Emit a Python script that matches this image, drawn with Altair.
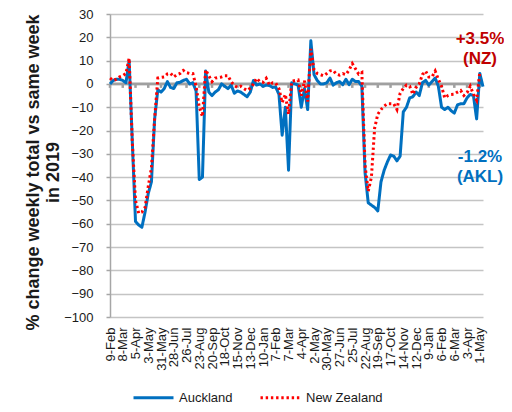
import altair as alt
import pandas as pd

# Weekly % change vs same week in 2019, weeks ending 9-Feb-2020 onwards
akl = [0, 1.5, 2, 2, 1.5, 0.5, 10, -25, -59, -60.5,
       -61.5, -55, -47, -42, -15, -2.5, -3.5, -2, 1, -1.5,
       -2, 0.5, 0.7, 1.5, 2, 0, 0.5, -3, -41, -40,
       5.5, -3.5, -5, -3.5, -2.5, 0, -1, -2, -0.5, -4,
       -3, -3.5, -4.5, -5.5, -3.5, 1.5, -0.5, 0, -1, -0.5,
       -0.7, -1.5, -1.4, -4.5, -22, -10, -37, 0.5, 0, -0.5,
       -10, -2, -11, 18.5, 4, 1.5, 0, 0, 0.5, 2.5,
       -0.5, 0.5, 1, -0.3, 2, -0.3, 2, 1, 1, -1,
       -38, -51, -52, -53, -54.5, -42, -37, -33.5, -30.5, -31,
       -33, -31, -12, -10, -6, -5.5, -3.5, -5, 0.5, 1.5,
       -0.5, 1, 2.5, -1, -10, -11, -10, -11.5, -12.5, -9,
       -8.5, -8.5, -6, -4.5, -5, -15, 4.5, -1.2]

nz = [2.5, 1.5, 2, 3, 3.5, 4.5, 11, -25, -50, -55.5,
      -55, -53, -44, -36, -15, 2.5, 2.8, 3, 4.3, 4.6,
      3, 4, 4.5, 5.8, 4.8, 4.5, 4.4, -1, -10, -14,
      6, 3.5, 1, 2.5, 2.8, 3, 3.5, 3.5, 1, -0.7,
      -1.5, -1, -2, -2.8, -1.8, 0, 2.4, 1, 0.7, 2.4,
      -0.5, 0.5, 0.3, -2, -8, -4.5, -13, 1, 1.5, 1.7,
      -5, 1.4, -7.6, 15, 6, 4.5, 4, 3.5, 4.5, 5.6,
      5.8, 4.2, 3.8, 4.4, 4, 6, 8.7, 6.5, 4.2, 4.9,
      -35, -46, -40, -19, -13, -11, -9.5, -8.5, -8.5, -8.5,
      -11, -4, -2, -0.5, -1, -4.5, -1.5, 0, 4, 5.5,
      3, 3, 5.5, 2, -1, -6, -5, -4.5, -4.4, -3.5,
      -2.8, -5, -3.8, -1, -4.4, -7, 5]

series_names = ["Auckland", "New Zealand"]

tick_labels = ["9-Feb", "8-Mar", "5-Apr", "3-May", "31-May", "28-Jun", "26-Jul",
               "23-Aug", "20-Sep", "18-Oct", "15-Nov", "13-Dec", "10-Jan", "7-Feb",
               "7-Mar", "4-Apr", "2-May", "30-May", "27-Jun", "25-Jul", "22-Aug",
               "19-Sep", "17-Oct", "14-Nov", "12-Dec", "9-Jan", "6-Feb", "6-Mar",
               "3-Apr", "1-May"]

y_ticks = list(range(-100, 31, 10))
y_title = ["% change weekly total  vs same week", "in 2019"]
ann_nz = ["+3.5%", "(NZ)"]
ann_akl = ["-1.2%", "(AKL)"]

rows = [{"week": i, "value": v, "series": series_names[0]} for i, v in enumerate(akl)]
rows += [{"week": i, "value": v, "series": series_names[1]} for i, v in enumerate(nz)]
df = pd.DataFrame(rows)

tick_weeks = [4 * i for i in range(len(tick_labels))]
ticks_df = pd.DataFrame({"week": tick_weeks, "value": [0] * len(tick_weeks),
                         "value2": [-1.7] * len(tick_weeks)})
zero_df = pd.DataFrame({"value": [0]})
one_row = pd.DataFrame({"k": [0]})

label_expr = "[" + ",".join("'" + t + "'" for t in tick_labels) + "][round(datum.value/4)]"

FONT = "Liberation Sans"

x_scale = alt.Scale(domain=[0, len(akl) - 1], nice=False, zero=False)
y_scale = alt.Scale(domain=[-100, 30], nice=False, zero=False)

x_axis = alt.Axis(values=tick_weeks, labelExpr=label_expr, labelAngle=270,
                  grid=False, domain=False, ticks=False, labelPadding=10,
                  labelFontSize=13, labelFont=FONT, labelColor="#1a1a1a",
                  labelOverlap=False, labelBound=False, title=None)
y_axis = alt.Axis(values=y_ticks, grid=True, gridColor="#c4c4c4",
                  gridWidth=1.6, domain=True, domainColor="#a6a6a6", domainWidth=1.5,
                  tickColor="#a6a6a6", tickSize=4, tickWidth=1.5, labelPadding=13,
                  labelFontSize=13, labelFont=FONT, labelColor="#1a1a1a",
                  labelOverlap=False, labelBound=False,
                  title=y_title, titleFont=FONT, titleFontSize=18, titleFontWeight="bold",
                  titleColor="#1a1a1a", titleAngle=270, titleBaseline="top",
                  titleAlign="center", titleX=-86, titleY=158, titleLineHeight=20)

x_enc = alt.X("week:Q", scale=x_scale, axis=x_axis)
y_enc = alt.Y("value:Q", scale=y_scale, axis=y_axis)

legend_def = alt.Legend(title=None, orient="none", direction="horizontal",
                        legendX=22, legendY=362, symbolType="stroke", symbolSize=1600,
                        symbolStrokeWidth=3, labelFont=FONT, labelFontSize=13,
                        labelColor="#1a1a1a", labelOffset=4, columnPadding=21, padding=0)

color_enc = alt.Color(
    "series:N",
    scale=alt.Scale(domain=series_names, range=["#0070C0", "#FF0000"]),
    legend=legend_def,
)
dash_enc = alt.StrokeDash(
    "series:N",
    scale=alt.Scale(domain=series_names, range=[[1, 0], [2.4, 2.8]]),
    legend=legend_def,
)

base = alt.Chart(df)
akl_line = base.transform_filter(alt.datum.series == series_names[0]).mark_line(
    strokeWidth=3, strokeJoin="round").encode(x=x_enc, y=y_enc, color=color_enc, strokeDash=dash_enc)
nz_line = base.transform_filter(alt.datum.series == series_names[1]).mark_line(
    strokeWidth=3).encode(x=x_enc, y=y_enc, color=color_enc, strokeDash=dash_enc)

zero_line = alt.Chart(zero_df).mark_rule(color="#a0a0a0", strokeWidth=2.6).encode(
    y=y_enc
)

zero_ticks = alt.Chart(ticks_df).mark_rule(color="#a0a0a0", strokeWidth=2.5).encode(
    x=x_enc,
    y=y_enc,
    y2="value2:Q",
)

txt_nz = alt.Chart(one_row).mark_text(
    font=FONT, fontSize=17, fontWeight="bold", color="#C00000",
    align="center", baseline="middle", lineHeight=20).encode(
    x=alt.value(370), y=alt.value(25), text=alt.value(ann_nz))
txt_akl = alt.Chart(one_row).mark_text(
    font=FONT, fontSize=17, fontWeight="bold", color="#0070C0",
    align="center", baseline="middle", lineHeight=20).encode(
    x=alt.value(370), y=alt.value(142.5), text=alt.value(ann_akl))

chart = alt.layer(zero_line, zero_ticks, akl_line, nz_line, txt_nz, txt_akl).properties(
    width=373, height=303,
    autosize="none",
    padding={"left": 102, "top": 6, "right": 21, "bottom": 87},
    background="white",
).configure_view(stroke=None)

chart.save("out.html", embed_options={"renderer": "svg", "actions": False})
